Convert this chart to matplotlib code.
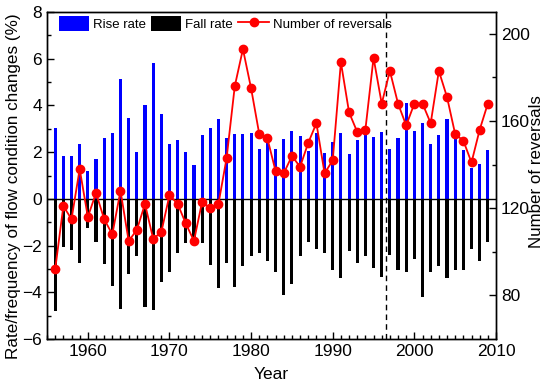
import matplotlib
matplotlib.use("Agg")
import matplotlib.pyplot as plt
from matplotlib.ticker import MultipleLocator, FixedLocator
from matplotlib.patches import Patch
from matplotlib.lines import Line2D

plt.rcParams['font.family'] = ['Liberation Sans', 'DejaVu Sans']

years = list(range(1956, 2010))
rise_rate = [3.03, 1.84, 1.84, 2.33, 1.20, 1.71, 2.62, 2.84, 5.12, 3.47,
             2.00, 4.02, 5.82, 3.63, 2.37, 2.51, 2.01, 1.43, 2.73, 3.03,
             3.42, 2.62, 2.77, 2.77, 2.82, 2.14, 2.45, 2.12, 2.57, 2.92,
             2.68, 2.03, 2.83, 1.97, 2.45, 2.83, 1.93, 2.51, 2.85, 2.67,
             2.88, 2.13, 2.62, 4.12, 2.91, 3.25, 2.33, 2.73, 3.42, 2.67,
             2.11, 1.33, 1.51, 2.10]
fall_rate = [-4.82, -2.08, -2.18, -2.73, -1.26, -1.85, -2.77, -3.71, -4.71, -3.22,
             -2.45, -4.65, -4.76, -3.54, -3.13, -2.33, -1.91, -1.85, -1.91, -2.83,
             -3.82, -2.73, -3.78, -2.87, -2.44, -2.33, -2.64, -3.13, -4.12, -3.63,
             -2.44, -1.83, -2.14, -2.33, -3.04, -3.38, -2.23, -2.73, -2.43, -2.98,
             -3.33, -2.41, -3.04, -3.13, -2.58, -4.22, -3.13, -2.88, -3.38, -3.04,
             -3.04, -2.13, -2.64, -1.83]
reversals = [92, 121, 115, 138, 116, 127, 115, 108, 128, 105,
             110, 122, 106, 109, 126, 122, 113, 105, 123, 120,
             122, 143, 176, 193, 175, 154, 152, 137, 136, 144,
             139, 150, 159, 136, 142, 187, 164, 155, 156, 189,
             168, 183, 168, 158, 168, 168, 159, 183, 171, 154,
             151, 141, 156, 168]
change_year = 1996.5

fig = plt.figure(figsize=(5.5, 3.89), dpi=100)
ax = fig.add_axes([0.0855, 0.1285, 0.8163, 0.8405])
ax2 = ax.twinx()

ax.bar(years, rise_rate, width=0.38, color='#0000FF', zorder=2)
ax.bar(years, fall_rate, width=0.38, color='#000000', zorder=2)
ax.axhline(0, color='black', lw=1.0, zorder=3)
ax.axvline(change_year, color='black', lw=1.0, ls=(0, (4, 3)), zorder=3)

ax2.plot(years, reversals, color='#FF0000', lw=1.3, marker='o', ms=6,
         markerfacecolor='#FF0000', markeredgecolor='#FF0000', zorder=4)

ax.set_xlim(1955, 2010)
ax.set_ylim(-6, 8)
ax2.set_ylim(60, 210)

ax.xaxis.set_major_locator(MultipleLocator(10))
ax.xaxis.set_minor_locator(MultipleLocator(1))
ax.yaxis.set_major_locator(MultipleLocator(2))
ax.yaxis.set_minor_locator(MultipleLocator(1))
ax2.yaxis.set_major_locator(FixedLocator([80, 120, 160, 200]))
ax2.yaxis.set_minor_locator(FixedLocator([100, 140, 180]))

ax.tick_params(axis='both', which='major', direction='in', length=5, width=1,
               labelsize=12.5, top=False)
ax.tick_params(axis='both', which='minor', direction='in', length=3, width=1, top=False)
ax2.tick_params(axis='y', which='major', direction='in', length=5, width=1, labelsize=12.5)
ax2.tick_params(axis='y', which='minor', direction='in', length=3, width=1)

ax.set_xlabel('Year', fontsize=12.5)
ax.set_ylabel('Rate/frequency of flow condition changes (%)', fontsize=12.3)
ax2.set_ylabel('Number of reversals', fontsize=12.2)
ax.xaxis.set_label_coords(0.5, -0.085)
ax.yaxis.set_label_coords(-0.058, 0.468)
ax2.yaxis.set_label_coords(1.074, 0.512)

for a in (ax, ax2):
    for s in a.spines.values():
        s.set_linewidth(1.0)

handles = [Patch(facecolor='#0000FF', edgecolor='none', label='Rise rate'),
           Patch(facecolor='#000000', edgecolor='none', label='Fall rate'),
           Line2D([], [], color='#FF0000', lw=1.3, marker='o', ms=6, label='Number of reversals')]
ax2.legend(handles=handles, loc='upper left', bbox_to_anchor=(0.008, 1.012), ncol=3,
           frameon=False, fontsize=9.5, handlelength=2.3, handleheight=1.4,
           handletextpad=0.3, columnspacing=0.4, borderaxespad=0.2)

fig.savefig('out.png', dpi=100)
